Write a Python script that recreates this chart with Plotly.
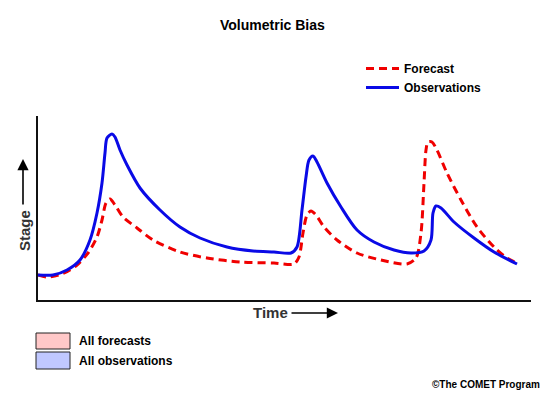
import plotly.graph_objects as go

# Time positions and stage values (arbitrary units)
obs_time = [38, 53, 67, 80, 90, 97, 102, 105, 107, 112, 115, 120, 127, 140, 160, 180, 200, 227, 253, 274,
            291, 297, 302, 306, 309, 313, 317, 327, 341, 357, 374, 394, 411, 424, 431, 433, 436, 441, 454,
            474, 494, 517]
obs_stage = [122, 122, 127, 137, 157, 184, 214, 244, 259, 263, 260, 247, 232, 209, 187, 170, 159, 150, 146, 145,
             144, 150, 187, 220, 237, 241, 235, 214, 190, 167, 155, 147, 144, 146, 157, 184, 191, 189, 175,
             159, 145, 133]

fc_time = [38, 47, 62, 77, 88, 97, 102, 106, 110, 115, 123, 137, 153, 180, 207, 240, 274,
           294, 299, 303, 307, 311, 316, 324, 337, 357, 381, 407, 416, 421, 424, 426, 428, 432, 437,
           447, 461, 477, 494, 507, 519]
fc_stage = [122, 120, 123, 132, 144, 160, 177, 194, 198, 192, 180, 169, 157, 145, 139, 135, 134,
            133, 140, 164, 182, 186, 182, 170, 157, 144, 137, 133, 139, 164, 214, 247, 255, 255, 247,
            224, 197, 170, 150, 139, 133]

series_names = ["Forecast", "Observations"]
box_labels = ["All forecasts", "All observations"]

# layout geometry (pixels)
W, H = 548, 397
L, R, T, B = 38, 17, 116, 97
pw, ph = W - L - R, H - T - B

def px(x):
    return (x - L) / pw

def py(y):
    return (H - B - y) / ph

fig = go.Figure()
fig.add_trace(go.Scatter(x=fc_time, y=fc_stage, mode="lines", name=series_names[0],
                         line=dict(color="#f00000", width=3, dash="8px,5px", shape="spline", smoothing=0.8)))
fig.add_trace(go.Scatter(x=obs_time, y=obs_stage, mode="lines", name=series_names[1],
                         line=dict(color="#0a0ae6", width=3, shape="spline", smoothing=0.8)))

font_family = "Liberation Sans, Arial, sans-serif"

def note(text, x, y, size, color="#000", xanchor="center", **kw):
    return dict(text=text, x=px(x), y=py(y), xref="paper", yref="paper", xanchor=xanchor,
                yanchor="middle", showarrow=False,
                font=dict(size=size, color=color, family=font_family), **kw)

annotations = [
    note("<b>Volumetric Bias</b>", 272, 25, 14),
    note("<b>Time</b>", 270, 312, 15, color="#333"),
    dict(text="", x=px(338), y=py(313), ax=-48, ay=0, xref="paper", yref="paper",
         showarrow=True, arrowhead=2, arrowsize=1.4, arrowwidth=1.6, arrowcolor="#000"),
    note("<b>Stage</b>", 24, 231, 15, color="#333", textangle=-90),
    dict(text="", x=px(23), y=py(159), ax=0, ay=47, xref="paper", yref="paper",
         showarrow=True, arrowhead=2, arrowsize=1.4, arrowwidth=1.6, arrowcolor="#000"),
    note("<b>\u00a9The COMET Program</b>", 542, 384, 10, xanchor="right"),
    note("<b>" + box_labels[0] + "</b>", 77, 341, 12, xanchor="left"),
    note("<b>" + box_labels[1] + "</b>", 77, 361, 12, xanchor="left"),
]

shapes = [
    dict(type="rect", xref="paper", yref="paper", x0=px(36), x1=px(70), y0=py(333), y1=py(349),
         fillcolor="#ffc8c8", line=dict(color="#222", width=1)),
    dict(type="rect", xref="paper", yref="paper", x0=px(36), x1=px(70), y0=py(352), y1=py(369),
         fillcolor="#c0c8ff", line=dict(color="#222", width=1)),
]

fig.update_layout(
    width=W, height=H,
    margin=dict(l=L, r=R, t=T, b=B, autoexpand=False),
    paper_bgcolor="white", plot_bgcolor="white",
    font=dict(family=font_family),
    showlegend=True,
    legend=dict(x=px(361), y=py(54), xanchor="left", yanchor="top", itemwidth=33,
                font=dict(size=12, color="#000", family=font_family, weight="bold"),
                bgcolor="rgba(0,0,0,0)", borderwidth=0, tracegroupgap=0),
    xaxis=dict(range=[L, W - R], showline=True, linecolor="#111", linewidth=1.5, showgrid=False,
               zeroline=False, showticklabels=False, ticks="", fixedrange=True),
    yaxis=dict(range=[B, H - T], showline=True, linecolor="#111", linewidth=1.5, showgrid=False,
               zeroline=False, showticklabels=False, ticks="", fixedrange=True),
    annotations=annotations,
    shapes=shapes,
)

fig.write_html("out.html", config={"displayModeBar": False},
               post_script="document.body.style.margin='0';")
